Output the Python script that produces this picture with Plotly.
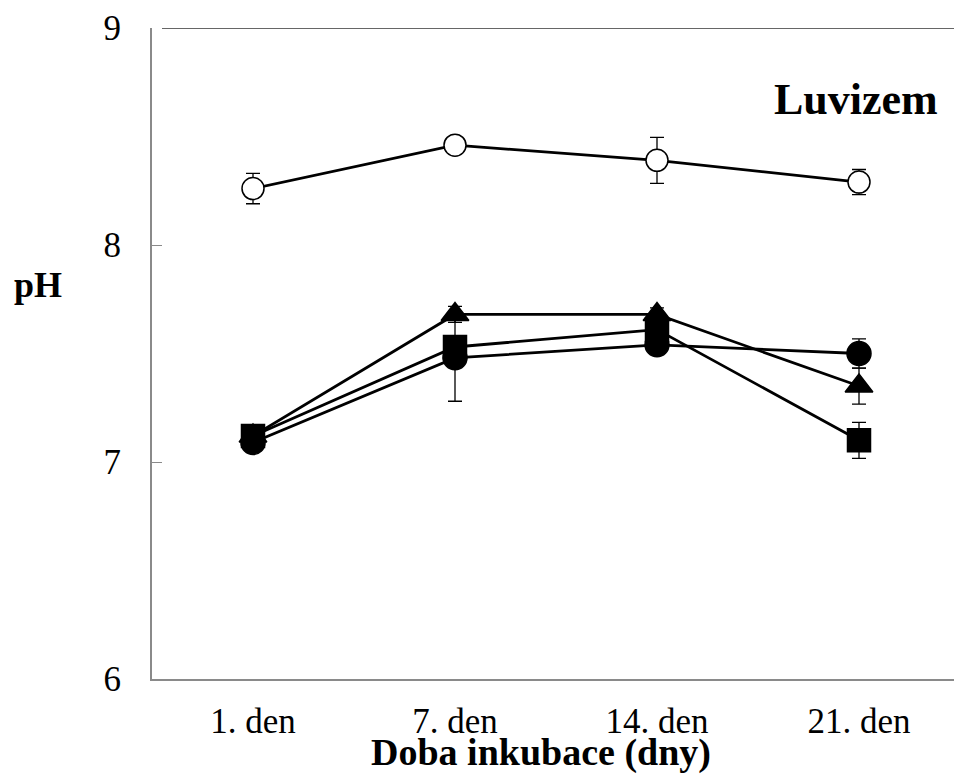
import plotly.graph_objects as go

days = ["1. den", "7. den", "14. den", "21. den"]
x_pos = [0, 1, 2, 3]

open_circle = [8.26, 8.46, 8.39, 8.29]
open_circle_err = [0.07, 0.0, 0.106, 0.058]

triangle = [7.12, 7.68, 7.68, 7.35]
triangle_err = [0.01, 0.037, 0.03, 0.083]

square = [7.12, 7.53, 7.61, 7.10]
square_err = [0.01, 0.0, 0.0, 0.083]

filled_circle = [7.09, 7.48, 7.54, 7.50]
filled_circle_err = [0.02, 0.2, 0.02, 0.067]

y_ticks = [6, 7, 8, 9]

FONT = "Liberation Serif"

W, H = 954, 774
L, T, B = 152, 28, 774 - 679
PW = W - L
PH = H - T - B

fig = go.Figure()

def add_series(y, err, symbol, fill, size):
    fig.add_trace(go.Scatter(
        x=x_pos, y=y, mode="lines+markers",
        line=dict(color="black", width=2.8),
        marker=dict(symbol=symbol, size=size, color=fill,
                    line=dict(color="black", width=1.5)),
        error_y=dict(type="data", array=err, visible=True,
                     color="black", thickness=1.3, width=7),
        showlegend=False,
    ))

add_series(filled_circle, filled_circle_err, "circle", "black", 24)
add_series(square, square_err, "square", "black", 23)
add_series(triangle, triangle_err, "triangle-up", "black", 24)
add_series(open_circle, open_circle_err, "circle", "white", 22)

def px_x(page_x):
    return (page_x - L) / PW

def px_y(page_y):
    return (H - B - page_y) / PH

fig.update_layout(
    width=W, height=H,
    margin=dict(l=L, r=0, t=T, b=B),
    plot_bgcolor="white", paper_bgcolor="white",
    font=dict(family=FONT, color="black"),
    xaxis=dict(
        range=[-0.5, -0.5 + PW / 202.0], tickvals=x_pos, ticktext=days,
        showgrid=False, zeroline=False,
        showline=True, linecolor="#8a8a8a", linewidth=2,
        ticks="", tickfont=dict(family=FONT, size=35, color="black"),
        ticklabelstandoff=10,
    ),
    yaxis=dict(
        range=[6, 9], tickvals=y_ticks, ticktext=[str(v) for v in y_ticks],
        showgrid=False, zeroline=False,
        showline=True, linecolor="#8a8a8a", linewidth=2,
        ticks="inside", ticklen=10, tickcolor="#8a8a8a", tickwidth=1,
        tickfont=dict(family=FONT, size=35, color="black"),
        ticklabelstandoff=22,
    ),
    shapes=[dict(type="line", xref="paper", yref="y",
                 x0=10 / PW, x1=1, y0=9, y1=9,
                 line=dict(color="#333333", width=1.6))],
    annotations=[
        dict(text="<b>Luvizem</b>", xref="paper", yref="paper",
             x=px_x(856), y=px_y(100), xanchor="center", yanchor="middle",
             showarrow=False, font=dict(family=FONT, size=44, color="black")),
        dict(text="<b>pH</b>", xref="paper", yref="paper",
             x=px_x(38), y=px_y(285), xanchor="center", yanchor="middle",
             showarrow=False, font=dict(family=FONT, size=36, color="black")),
        dict(text="<b>Doba inkubace (dny)</b>", xref="paper", yref="paper",
             x=px_x(541), y=px_y(752), xanchor="center", yanchor="middle",
             showarrow=False, font=dict(family=FONT, size=38, color="black")),
    ],
)

fig.write_html(
    "out.html",
    config={"displayModeBar": False},
    post_script="document.body.style.margin='0';document.body.style.overflow='hidden';",
)
